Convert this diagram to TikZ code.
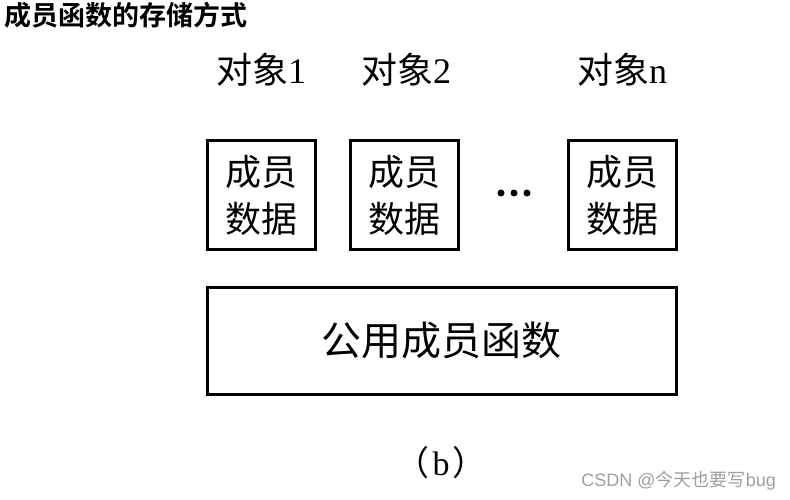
\documentclass[tikz,border=0pt]{standalone}
\usepackage{fontspec}
\setmainfont{Liberation Serif}
\newfontfamily\cjk{Noto Sans CJK SC}
\newfontfamily\cjkb{Noto Sans CJK SC}[BoldFont={Noto Sans CJK SC Bold}]
\newfontfamily\wm{Liberation Sans}
\tikzset{
  databox/.style={draw=black, line width=3pt, minimum width=108pt, minimum height=108pt, inner sep=0pt, align=center, font=\fontsize{36pt}{47pt}\selectfont\cjk},
  funcbox/.style={draw=black, line width=3pt, minimum width=469pt, minimum height=107pt, inner sep=0pt, font=\fontsize{40pt}{42pt}\selectfont\cjk},
  objlabel/.style={font=\fontsize{36pt}{38pt}\selectfont, inner sep=0pt},
  dot/.style={fill=black, circle, inner sep=0pt, minimum size=7pt}
}
\begin{document}
\begin{tikzpicture}[x=1pt, y=-1pt]
\useasboundingbox (0,0) rectangle (790,500);
\node[anchor=west, inner sep=0pt, font=\fontsize{27pt}{30pt}\selectfont\cjkb\bfseries] (title) at (4,15) {成员函数的存储方式};
\node[objlabel] (o1) at (261,70) {{\cjk 对象}1};
\node[objlabel] (o2) at (406,70) {{\cjk 对象}2};
\node[objlabel] (on) at (622,70) {{\cjk 对象}n};
\node[databox] (b1) at (261,195) {成员\\数据};
\node[databox] (b2) at (404,195) {成员\\数据};
\node[databox] (bn) at (622,195) {成员\\数据};
\node[dot] (d1) at (501,193) {};
\node[dot] (d2) at (514,193) {};
\node[dot] (d3) at (527,193) {};
\node[funcbox] (f) at (441.5,340.5) {公用成员函数};
\node[inner sep=0pt, font=\fontsize{34pt}{36pt}\selectfont] (cap) at (441,463) {{\cjk （}\hspace{3pt}b\hspace{3pt}{\cjk ）}};
\node[anchor=east, inner sep=0pt, text=gray!75, font=\fontsize{18pt}{20pt}\selectfont] (wmk) at (776,481) {\wm CSDN @\cjk 今天也要写\wm bug};
\end{tikzpicture}
\end{document}
